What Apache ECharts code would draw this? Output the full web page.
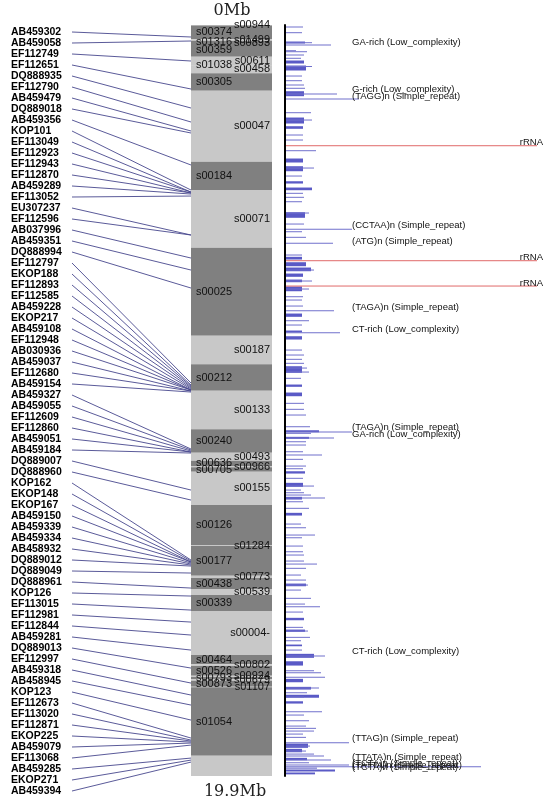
<!DOCTYPE html>
<html><head><meta charset="utf-8">
<script src="https://cdn.jsdelivr.net/npm/echarts/dist/echarts.min.js"></script>
<style>html,body{margin:0;padding:0;background:#fff}#c{width:549px;height:805px}</style>
</head><body><div id="c"></div>
<script>
const axisEnds = ['0Mb', '19.9Mb'];
const genomeMb = 19.9;

const markerNames = ['AB459302','AB459058','EF112749','EF112651','DQ888935','EF112790','AB459479','DQ889018','AB459356','KOP101','EF113049','EF112923','EF112943','EF112870','AB459289','EF113052','EU307237','EF112596','AB037996','AB459351','DQ888994','EF112797','EKOP188','EF112893','EF112585','AB459228','EKOP217','AB459108','EF112948','AB030936','AB459037','EF112680','AB459154','AB459327','AB459055','EF112609','EF112860','AB459051','AB459184','DQ889007','DQ888960','KOP162','EKOP148','EKOP167','AB459150','AB459339','AB459334','AB458932','DQ889012','DQ889049','DQ888961','KOP126','EF113015','EF112981','EF112844','AB459281','DQ889013','EF112997','AB459318','AB458945','KOP123','EF112673','EF113020','EF112871','EKOP225','AB459079','EF113068','AB459285','EKOP271','AB459394'];

const markerPos = [0.318,0.424,0.954,1.696,2.200,2.571,2.809,2.862,3.710,4.373,
 4.426,4.426,4.452,4.452,4.479,4.532,5.565,5.565,6.175,6.493,
 6.970,9.487,9.540,9.567,9.593,9.620,9.646,9.673,9.673,9.673,
 9.699,9.699,9.726,11.236,11.263,11.289,11.316,11.316,11.342,12.323,
 12.588,14.178,14.204,14.231,14.231,14.257,14.284,14.310,14.337,14.522,
 14.920,15.132,15.503,15.821,16.165,16.563,17.040,17.437,17.755,18.020,
 18.418,18.895,18.948,18.974,19.001,19.027,19.080,19.425,19.478,19.531];

const scaffoldNames = ['s00944','s00374','s01499','s01316','s00893','s00359','s00611','s01038','s00458','s00305',
 's00047','s00184','s00071','s00025','s00187','s00212','s00133','s00240','s00493','s00636',
 's00966','s00705','s00155','s00126','s01284','s00177','s00773','s00438','s00539','s00339',
 's00004-','s00464','s00802','s00526','s00924','s00793','s00679','s00873','s01107','s01054',''];
const scaffoldEnds = [0.013,0.379,0.416,0.477,0.480,0.840,1.060,1.068,1.280,1.741,
 3.622,4.372,5.901,8.233,8.991,9.690,10.713,11.333,11.545,11.686,
 11.720,11.837,12.719,13.779,13.805,14.593,14.653,14.945,15.104,15.528,
 16.694,16.940,16.985,17.242,17.277,17.338,17.375,17.534,17.550,19.362,19.9];

// repeats: [start Mb, end Mb, length]
const repeats = [
[0.053,0.053,18],[0.204,0.204,17],[0.451,0.504,20],[0.469,0.469,27],[0.530,0.530,46],
[0.681,0.681,11],[0.708,0.708,22],[0.795,0.795,19],[0.882,0.882,16],[0.954,1.034,19],
[1.087,1.219,21],[1.100,1.100,27],[1.352,1.352,17],[1.476,1.476,17],[1.590,1.590,19],
[1.677,1.677,20],[1.768,1.900,19],[1.829,1.829,52],[1.961,1.961,74],[2.324,2.324,26],
[2.465,2.624,19],[2.518,2.518,27],[2.695,2.764,18],[2.915,2.915,18],[3.048,3.048,18],
[3.331,3.331,31],[3.551,3.657,18],[3.755,3.888,18],[3.790,3.790,29],[4.002,4.002,17],
[4.153,4.214,18],[4.320,4.391,27],[4.460,4.460,18],[4.566,4.566,19],
[4.683,4.683,17],[4.974,5.122,20],[4.982,4.982,24],[5.274,5.274,19],[5.414,5.414,67],
[5.478,5.478,17],[5.626,5.626,21],[5.785,5.785,48],[6.095,6.095,17],[6.156,6.228,17],
[6.299,6.405,21],[6.440,6.538,26],[6.493,6.493,29],[6.599,6.686,18],[6.758,6.829,17],
[6.784,6.784,27],[6.943,7.068,17],[6.996,6.996,24],[7.200,7.200,18],[7.288,7.288,17],
[7.447,7.447,18],[7.571,7.571,49],[7.659,7.746,17],[7.836,7.836,24],[7.950,7.950,17],
[8.109,8.162,17],[8.154,8.154,55],[8.260,8.348,17],[8.613,8.613,17],[8.745,8.745,19],
[8.859,8.859,17],[8.965,8.965,19],[9.055,9.230,17],[9.090,9.090,22],[9.196,9.196,24],
[9.362,9.362,16],[9.540,9.601,17],[9.752,9.850,17],
[10.025,10.025,19],[10.184,10.184,19],[10.335,10.335,21],[10.645,10.645,25],[10.751,10.804,34],
[10.786,10.786,67],[10.820,10.820,26],[10.926,10.979,24],[10.945,10.945,49],[11.043,11.043,21],
[11.130,11.130,21],[11.308,11.308,18],[11.395,11.395,37],[11.509,11.509,18],[11.687,11.687,21],
[11.758,11.758,18],[11.838,11.899,20],[12.012,12.012,18],[12.145,12.251,18],[12.217,12.217,29],
[12.323,12.323,16],[12.394,12.394,19],[12.455,12.455,26],[12.516,12.588,17],[12.535,12.535,40],
[12.633,12.633,18],[12.807,12.807,24],[12.940,13.012,17],[13.224,13.224,16],[13.322,13.322,21],
[13.515,13.515,30],[13.587,13.587,17],[13.807,13.807,18],[13.958,13.958,18],[14.045,14.045,19],
[14.204,14.204,19],[14.284,14.284,32],[14.397,14.397,21],[14.575,14.575,16],[14.708,14.708,21],
[14.814,14.885,21],[14.840,14.840,23],[14.973,14.973,16],[15.192,15.192,26],
[15.344,15.344,20],[15.415,15.415,35],[15.556,15.556,18],[15.722,15.786,19],[15.961,15.961,18],
[16.033,16.093,20],[16.059,16.059,23],[16.226,16.226,25],[16.316,16.316,16],[16.430,16.475,17],
[16.563,16.563,17],[16.676,16.782,29],[16.722,16.722,40],[16.873,16.987,18],[17.111,17.111,29],
[17.164,17.164,36],[17.286,17.286,40],[17.339,17.429,18],[17.551,17.623,26],[17.570,17.570,34],
[17.694,17.694,22],[17.763,17.842,34],[17.808,17.808,19],[17.933,17.994,18],[18.198,18.198,37],
[18.285,18.285,19],[18.436,18.436,24],[18.577,18.577,21],[18.637,18.637,31],[18.709,18.709,29],
[18.789,18.789,18],[18.876,18.876,21],[19.019,19.019,64],[19.054,19.167,23],[19.107,19.107,25],
[19.194,19.284,17],[19.239,19.239,21],[19.319,19.319,29],[19.372,19.372,39],[19.432,19.496,22],
[19.478,19.478,46],[19.549,19.549,24],[19.610,19.610,64],[19.655,19.655,196],[19.690,19.720,32],
[19.743,19.796,50],[19.820,19.870,30]
];

const rrnaPos = [3.199, 6.246, 6.917];
const rrnaLen = [252, 252, 252];
const rrnaName = 'rRNA';

const annotText = ['GA-rich (Low_complexity)','G-rich (Low_complexity)','(TAGG)n (Simple_repeat)','(CCTAA)n (Simple_repeat)','(ATG)n (Simple_repeat)','(TAGA)n (Simple_repeat)','CT-rich (Low_complexity)','(TAGA)n (Simple_repeat)','GA-rich (Low_complexity)','CT-rich (Low_complexity)','(TTAG)n (Simple_repeat)','(TTATA)n (Simple_repeat)','(TCTA)n (Simple_repeat)','(TATTA)n (Simple_repeat)','(TCTA)n (Simple_repeat)'];
const annotPos = [0.451,1.709,1.895,5.300,5.724,7.491,8.074,10.653,10.846,16.610,18.913,19.398,19.575,19.610,19.660];

const chart = echarts.init(document.getElementById('c'), null, {renderer: 'canvas'});

const LABEL_FONT = '9.5px "Liberation Sans", Arial, sans-serif';

const option = {
  animation: false,
  backgroundColor: '#fff',
  title: [
    {text: axisEnds[0], left: 232, top: 3, padding: 0, textAlign: 'center',
     textStyle: {fontFamily: 'DejaVu Serif', fontSize: 16, fontWeight: 'normal', color: '#222'}},
    {text: axisEnds[1], left: 235, top: 784, padding: 0, textAlign: 'center',
     textStyle: {fontFamily: 'DejaVu Serif', fontSize: 16, fontWeight: 'normal', color: '#222'}}
  ],
  grid: [
    {left: 72, width: 119, top: 26.5, height: 770},
    {left: 191, width: 81, top: 25, height: 751},
    {left: 285, width: 264, top: 25, height: 751}
  ],
  xAxis: [
    {gridIndex: 0, type: 'value', min: 0, max: 1, show: false},
    {gridIndex: 1, type: 'value', min: 0, max: 1, show: false},
    {gridIndex: 2, type: 'value', min: 0, max: 264, show: false}
  ],
  yAxis: [
    {gridIndex: 0, type: 'category', data: markerNames, inverse: true,
     axisLine: {show: false}, axisTick: {show: false}, splitLine: {show: false},
     axisLabel: {interval: 0, align: 'left', margin: 61, fontSize: 10.5, fontWeight: 'bold',
       fontFamily: '"Liberation Sans", Arial, sans-serif', color: '#000'}},
    {gridIndex: 1, type: 'value', min: 0, max: genomeMb, inverse: true, show: false},
    {gridIndex: 2, type: 'value', min: 0, max: genomeMb, inverse: true,
     axisLine: {show: true, lineStyle: {color: '#000', width: 2}},
     axisTick: {show: false}, axisLabel: {show: false}, splitLine: {show: false}}
  ],
  series: [
    {
      type: 'custom', name: 'scaffolds', xAxisIndex: 1, yAxisIndex: 1,
      data: scaffoldEnds.map((e, i) => [i ? scaffoldEnds[i - 1] : 0, e, i]),
      renderItem: function (params, api) {
        const idx = api.value(2);
        const p0 = api.coord([0, api.value(0)]);
        const p1 = api.coord([1, api.value(1)]);
        const dark = idx % 2 === 1;
        const children = [{type: 'rect', z2: 1,
          shape: {x: p0[0], y: p0[1], width: p1[0] - p0[0], height: p1[1] - p0[1]},
          style: {fill: dark ? '#808080' : '#c8c8c8'}}];
        const name = scaffoldNames[idx];
        if (name) {
          children.push({type: 'text', z2: 20, style: {
            text: name, x: dark ? p0[0] + 5 : p1[0] - 2, y: (p0[1] + p1[1]) / 2,
            align: dark ? 'left' : 'right', verticalAlign: 'middle',
            font: '11px "Liberation Sans", Arial, sans-serif', fill: '#111'}});
        }
        return {type: 'group', children: children};
      }
    },
    {
      type: 'custom', name: 'connectors', xAxisIndex: 0, yAxisIndex: 0, z: 3,
      data: markerPos.map((p, i) => [0, i, p]),
      encode: {x: 0, y: 1},
      renderItem: function (params, api) {
        const i = api.value(1);
        const a = api.coord([0, i]);
        const b = api.coord([1, i]);
        const y2 = chart.convertToPixel({yAxisIndex: 1}, api.value(2));
        return {type: 'line', shape: {x1: a[0], y1: a[1], x2: b[0], y2: y2},
          style: {stroke: '#47478d', lineWidth: 0.9}};
      }
    },
    {
      type: 'custom', name: 'repeats', xAxisIndex: 2, yAxisIndex: 2,
      data: repeats,
      renderItem: function (params, api) {
        const p0 = api.coord([0, api.value(0)]);
        const p1 = api.coord([api.value(2), api.value(1)]);
        const h = Math.max(p1[1] - p0[1], 1);
        return {type: 'rect', shape: {x: p0[0] + 1, y: p0[1] - 0.5, width: p1[0] - p0[0] - 1, height: h},
          style: {fill: h > 1.5 ? '#5a5ac6' : '#7070cc'}};
      }
    },
    {
      type: 'custom', name: 'rRNA', xAxisIndex: 2, yAxisIndex: 2,
      data: rrnaPos.map((p, i) => [p, rrnaLen[i]]),
      renderItem: function (params, api) {
        const p0 = api.coord([0, api.value(0)]);
        const p1 = api.coord([api.value(1), api.value(0)]);
        return {type: 'group', children: [
          {type: 'line', shape: {x1: p0[0] + 1, y1: p0[1], x2: p1[0], y2: p1[1]},
           style: {stroke: '#e06a6a', lineWidth: 1}},
          {type: 'text', style: {text: rrnaName, x: p1[0] + 6, y: p1[1] - 3, align: 'right', verticalAlign: 'middle',
           font: LABEL_FONT, fill: '#111'}}
        ]};
      }
    },
    {
      type: 'custom', name: 'annotations', xAxisIndex: 2, yAxisIndex: 2,
      data: annotPos.map((p, i) => [0, p, i]),
      encode: {x: 0, y: 1},
      renderItem: function (params, api) {
        const p = api.coord([0, api.value(1)]);
        return {type: 'text', style: {text: annotText[api.value(2)], x: p[0] + 67, y: p[1],
          align: 'left', verticalAlign: 'middle', font: LABEL_FONT, fill: '#111'}};
      }
    }
  ]
};
chart.setOption(option);
</script></body></html>
